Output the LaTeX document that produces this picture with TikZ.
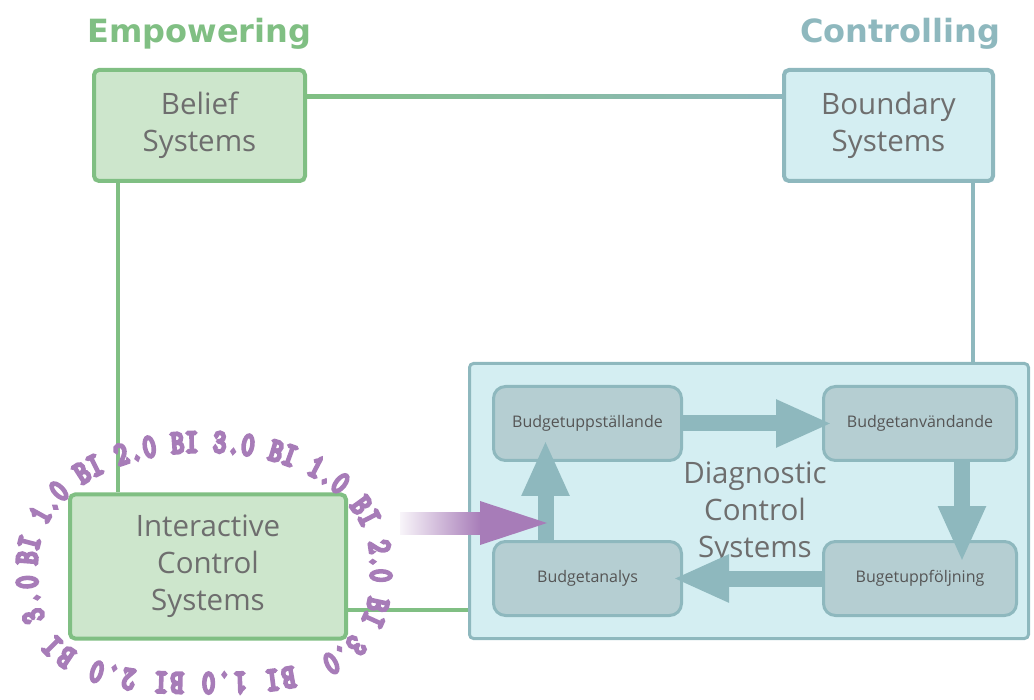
\documentclass[tikz,border=0pt]{standalone}
\usepackage{fontspec}
\setmainfont{Open Sans}
\newfontfamily\headfont{DejaVu Sans}
\newfontfamily\bifont[FakeStretch=0.75,FakeBold=9]{Latin Modern Mono}
\usepackage{tikz}
\usetikzlibrary{arrows.meta,shapes,positioning,decorations.text}

\definecolor{empgreen}{RGB}{128,191,131}
\definecolor{empfill}{RGB}{205,230,204}
\definecolor{ctrlteal}{RGB}{142,184,190}
\definecolor{ctrlfill}{RGB}{212,238,242}
\definecolor{budgetfill}{RGB}{181,206,210}
\definecolor{labelgray}{RGB}{110,110,110}
\definecolor{budgetgray}{RGB}{85,85,85}
\definecolor{bipurple}{RGB}{167,124,184}

\newcommand{\bistyle}{\bifont\fontsize{33}{33}\selectfont\color{bipurple}}

\tikzset{>=latex}
\tikzset{
 sysbox/.style={draw, rectangle, rounded corners=5pt, line width=4pt,
  text=labelgray, align=center, font=\fontsize{29.5}{37}\selectfont},
 empbox/.style={sysbox, draw=empgreen, fill=empfill},
 ctrlbox/.style={sysbox, draw=ctrlteal, fill=ctrlfill},
 budgetbox/.style={draw=ctrlteal, fill=budgetfill, rounded corners=12pt,
  line width=3pt, minimum height=74pt, text=budgetgray,
  font=\fontsize{16}{19}\selectfont},
 headline/.style={font=\headfont\bfseries\fontsize{32}{32}\selectfont},
 empline/.style={draw=empgreen, line width=4pt},
 ctrlline/.style={draw=ctrlteal, line width=4pt},
 flowarrow/.style={draw=ctrlteal, line width=16pt,
  -{Triangle[width=44pt,length=56pt]}},
 biring/.style={decorate, decoration={text along path, text align={fit to path},
  text={|\bistyle|#1}}}
}

\begin{document}
\begin{tikzpicture}[x=1pt,y=-1pt]
 \useasboundingbox (0,0) rectangle (1034,700);

 % Belief: upper left box
 \node[empbox,    	% layout (defined above)
  minimum width=211pt,	% box width
  minimum height=111pt] (Belief) at (199.5,125.5) {Belief\\Systems};

 % Boundary: upper right box
 \node[ctrlbox,
  right of=Belief, 	% same height as Belief
  node distance=689pt,	% distance to Belief
  minimum width=209pt,
  minimum height=111pt] (Boundary) {Boundary\\Systems};

 % headings
 \node[headline, text=empgreen, above of=Belief, node distance=92pt] (Empowering) {Empowering};
 \node[headline, text=ctrlteal, above of=Boundary, node distance=92pt,
  xshift=11.5pt] (Controlling) {Controlling};

 % Interactive: lower left box
 \node[empbox,
  below of=Belief,
  node distance=441pt,
  xshift=8.5pt,
  minimum width=276pt,
  minimum height=144pt] (Interactive) {Interactive\\Control\\Systems};

 % Diagnostic: big frame with the budget cycle
 \node[ctrlbox,
  rounded corners=4pt,
  line width=3pt,
  right of=Interactive,
  node distance=541pt,
  yshift=65.5pt,
  minimum width=559pt,
  minimum height=275pt] (DiagBox) {};
 \node[text=labelgray, align=center, font=\fontsize{29.5}{37}\selectfont,
  right of=DiagBox, node distance=6pt, yshift=-12.5pt] (DiagLabel)
  {Diagnostic\\Control\\Systems};

 % budget cycle
 \node[budgetbox, minimum width=188pt] (Uppst) at (587.5,423.5) {Budgetuppställande};
 \node[budgetbox, minimum width=193pt, right of=Uppst, node distance=332.5pt] (Anvand) {Budgetanvändande};
 \node[budgetbox, minimum width=188pt, below of=Uppst, node distance=155pt] (Analys) {Budgetanalys};
 \node[budgetbox, minimum width=193pt, right of=Analys, node distance=332.5pt] (Uppfolj) {Bugetuppföljning};

 % the four levers joined
 \shade[left color=empgreen, right color=ctrlteal]
  ([yshift=-27pt]Belief.north east) rectangle ([yshift=-31pt]Boundary.north west);
 \draw[empline] ([xshift=-82pt]Belief.south) -- ([xshift=-82pt]Belief.south |- Interactive.north);
 \draw[ctrlline] ([xshift=84.5pt]Boundary.south) -- ([xshift=84.5pt]Boundary.south |- DiagBox.north);
 \draw[empline] ([yshift=-43.5pt]Interactive.east) -- ([yshift=-43.5pt]Interactive.east -| DiagBox.west);

 % cycle arrows
 \draw[flowarrow] (Uppst.east) -- ([xshift=10pt]Anvand.west);
 \draw[flowarrow] ([xshift=42pt]Anvand.south) -- ([xshift=42pt,yshift=-22pt]Uppfolj.north);
 \draw[flowarrow] (Uppfolj.west) -- ([xshift=-10pt]Analys.east);
 \draw[flowarrow] ([xshift=-42pt]Analys.north) -- ([xshift=-42pt,yshift=22pt]Uppst.south);

 % BI arrow into the cycle
 \coordinate (bistart) at (400,523);
 \coordinate (bitip) at (547,523);
 \shade[left color=bipurple!8, right color=bipurple]
  ([yshift=11pt]bistart) rectangle ([xshift=-66pt,yshift=-11pt]bitip);
 \fill[bipurple] ([xshift=-67pt,yshift=22pt]bitip) -- (bitip)
  -- ([xshift=-67pt,yshift=-22pt]bitip) -- cycle;

 % BI ring round Interactive: lower part, then upper part
 \path[biring={BI 1.0 BI 2.0 BI 3.0}]
  plot[domain=66:178, samples=50, variable=\t]
   ({204+167*(cos(\t)<0 ? -1 : 1)*pow(abs(cos(\t)),0.7)}, {565+108*pow(abs(sin(\t)),0.7)});
 \path[biring={BI 1.0 BI 2.0 BI 3.0 BI 1.0 BI 2.0 BI 3.0}]
  plot[domain=180:359, samples=80, variable=\t]
   ({204+167*(cos(\t)<0 ? -1 : 1)*pow(abs(cos(\t)),0.95)}, {565-113*pow(abs(sin(\t)),0.95)})
  -- plot[domain=360:413, samples=25, variable=\t]
   ({204+167*pow(abs(cos(\t)),0.7)}, {565+108*pow(abs(sin(\t)),0.7)});

\end{tikzpicture}
\end{document}
